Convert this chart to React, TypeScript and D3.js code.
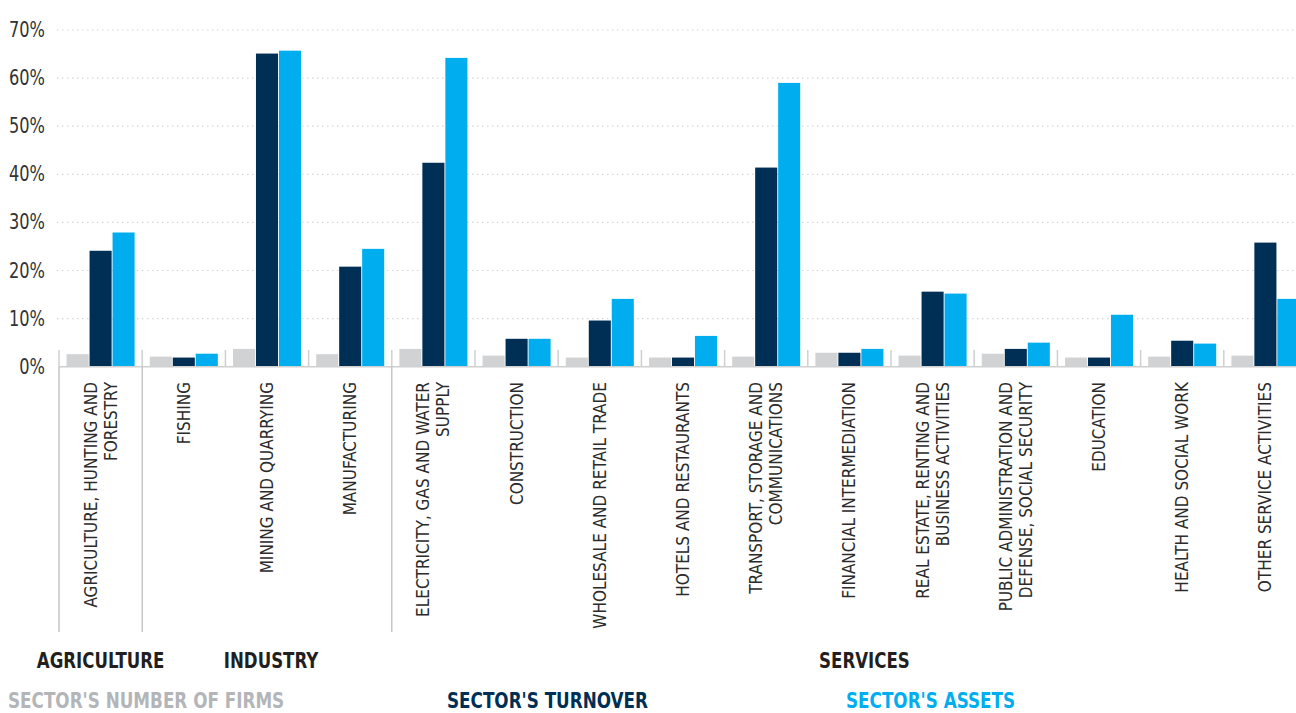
import { useEffect } from 'react';
import * as d3 from 'd3';

// sector labels, "\n" marks a line break in the rotated tick label
const categories = [
  'AGRICULTURE, HUNTING AND\nFORESTRY',
  'FISHING',
  'MINING AND QUARRYING',
  'MANUFACTURING',
  'ELECTRICITY, GAS AND WATER\nSUPPLY',
  'CONSTRUCTION',
  'WHOLESALE AND RETAIL TRADE',
  'HOTELS AND RESTAURANTS',
  'TRANSPORT, STORAGE AND\nCOMMUNICATIONS',
  'FINANCIAL INTERMEDIATION',
  'REAL ESTATE, RENTING AND\nBUSINESS ACTIVITIES',
  'PUBLIC ADMINISTRATION AND\nDEFENSE, SOCIAL SECURITY',
  'EDUCATION',
  'HEALTH AND SOCIAL WORK',
  'OTHER SERVICE ACTIVITIES',
];

const firms = [2.6, 2.1, 3.7, 2.6, 3.7, 2.3, 1.9, 1.9, 2.1, 2.9, 2.3, 2.7, 1.9, 2.1, 2.3];
const turnover = [24.1, 1.9, 65.1, 20.8, 42.4, 5.8, 9.6, 1.9, 41.4, 2.9, 15.6, 3.7, 1.9, 5.4, 25.8];
const assets = [27.9, 2.7, 65.7, 24.5, 64.2, 5.8, 14.1, 6.4, 59.0, 3.7, 15.2, 5.0, 10.8, 4.8, 14.1];

const seriesNames = ["SECTOR'S NUMBER OF FIRMS", "SECTOR'S TURNOVER", "SECTOR'S ASSETS"];
const seriesColors = ['#d1d2d4', '#002f56', '#00aeef'];
const legendColors = ['#b3b5b8', '#002f56', '#00aeef'];

const groupNames = ['AGRICULTURE', 'INDUSTRY', 'SERVICES'];
const groupSizes = [1, 3, 11];

const yTicks = [0, 10, 20, 30, 40, 50, 60, 70];

const W = 1296;
const H = 713;
const FONT = "'Liberation Sans Narrow', 'DejaVu Sans Condensed', 'Arial Narrow', sans-serif";

export default function App() {
  useEffect(() => {
    document.body.style.margin = '0';
    document.body.style.overflow = 'hidden';
  }, []);

  const left = 59;
  const step = 83.2;
  const x = d3
    .scaleBand<number>()
    .domain(d3.range(categories.length))
    .range([left, left + step * categories.length]);
  const inner = d3
    .scaleBand<number>()
    .domain([0, 1, 2])
    .range([0, x.bandwidth()])
    .paddingInner(0.04)
    .paddingOuter(0.33);
  const y = d3.scaleLinear().domain([0, 70]).range([366.7, 30]);
  const y0 = y(0);

  const series = [firms, turnover, assets];

  // group boundaries in category index units
  const groupStarts = groupSizes.map((_, i) => d3.sum(groupSizes.slice(0, i)));

  return (
    <svg width={W} height={H} style={{ display: 'block', fontFamily: FONT }}>
      {/* gridlines */}
      {yTicks
        .filter((t) => t > 0)
        .map((t) => (
          <line
            key={`g${t}`}
            x1={57}
            x2={W}
            y1={y(t)}
            y2={y(t)}
            stroke="#d6d6d6"
            strokeWidth={1.2}
            strokeDasharray="1.5 3.5"
          />
        ))}
      {/* y labels */}
      {yTicks.map((t) => (
        <text
          key={`y${t}`}
          transform={`translate(45,${y(t)}) scale(0.82,1)`}
          dy="0.32em"
          textAnchor="end"
          fontSize={22}
          fill="#333333"
        >
          {`${t}%`}
        </text>
      ))}
      {/* bars */}
      {categories.map((_, i) => (
        <g key={`c${i}`} transform={`translate(${x(i)},0)`}>
          {series.map((vals, s) => (
            <rect
              key={s}
              x={inner(s)}
              y={y(vals[i])}
              width={inner.bandwidth()}
              height={y0 - y(vals[i])}
              fill={seriesColors[s]}
            />
          ))}
        </g>
      ))}
      {/* baseline */}
      <line x1={left} x2={W} y1={y0} y2={y0} stroke="#d0d0d0" strokeWidth={1.5} />
      {/* category boundary ticks */}
      {categories.map((_, i) => (
        <line
          key={`t${i}`}
          x1={x(i)}
          x2={x(i)}
          y1={350}
          y2={y0}
          stroke="#d0d0d0"
          strokeWidth={1.5}
        />
      ))}
      {/* group separators */}
      {groupStarts.map((s, i) => (
        <line key={`s${i}`} x1={x(s)} x2={x(s)} y1={y0} y2={632} stroke="#b8b8b8" strokeWidth={1.2} />
      ))}
      {/* category labels */}
      {categories.map((c, i) => {
        const lines = c.split('\n');
        const cx = x(i)! + x.bandwidth() / 2;
        return (
          <text
            key={`l${i}`}
            transform={`translate(${cx},382) rotate(-90)`}
            textAnchor="end"
            fontSize={17}
            fill="#2b2b2b"
          >
            {lines.map((ln, k) => (
              <tspan key={k} x={0} y={(k - (lines.length - 1) / 2) * 20} dy="0.35em">
                {ln}
              </tspan>
            ))}
          </text>
        );
      })}
      {/* group labels */}
      {groupNames.map((g, i) => {
        const x1 = x(groupStarts[i])!;
        const x2 = x(groupStarts[i] + groupSizes[i] - 1)! + x.bandwidth();
        const nudge = i === 2 ? 15 : i === 1 ? 4 : 0;
        return (
          <text
            key={g}
            transform={`translate(${(x1 + x2) / 2 + nudge},668) scale(0.84,1)`}
            textAnchor="middle"
            fontSize={22}
            fontWeight="bold"
            fill="#231f20"
          >
            {g}
          </text>
        );
      })}
      {/* legend */}
      {seriesNames.map((n, i) => (
        <text
          key={n}
          transform={`translate(${[8, 447, 846][i]},708) scale(0.89,1)`}
          fontSize={21}
          fontWeight="bold"
          fill={legendColors[i]}
        >
          {n}
        </text>
      ))}
    </svg>
  );
}
